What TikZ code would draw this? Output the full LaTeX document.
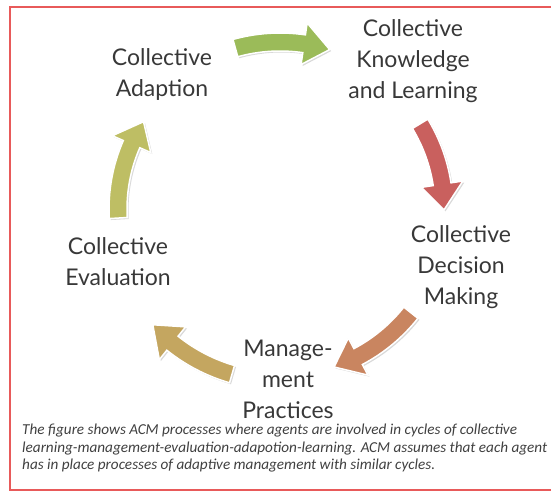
\documentclass[tikz,border=0pt]{standalone}
\usepackage{fontspec}
\setmainfont{Lato}
\newfontfamily\notefont{Carlito}
\usetikzlibrary{shadows}

\definecolor{cgreen}{HTML}{9BBB59}
\definecolor{cred}{HTML}{C9605E}
\definecolor{corange}{HTML}{C98560}
\definecolor{ctan}{HTML}{C4A660}
\definecolor{colive}{HTML}{BEBE64}
\definecolor{cframe}{HTML}{E85A5A}

\begin{document}
\begin{tikzpicture}[
    x=1pt, y=1pt,
    stage/.style={align=center, inner sep=0pt, text=black!78, font=\fontsize{23}{31}\selectfont},
    note/.style={align=left, inner sep=0pt, anchor=north west, text=black!75, font=\notefont\itshape\fontsize{15.2}{17.6}\selectfont},
    ring/.style={draw=white, line width=1.5pt, drop shadow={shadow xshift=1.5pt, shadow yshift=-1.5pt, opacity=0.3}},
    frame/.style={draw=cframe, line width=1.5pt}
]
\useasboundingbox (0,0) rectangle (551,493);
\clip (0,0) rectangle (551,493);
\draw[frame] (10,486) rectangle (570,3);

\coordinate (cyc) at (280,284);

% the five stages
\node[stage] (adapt) at (162,418) {Collective\\Adaption};
\node[stage] (learn) at (413,432) {Collective\\Knowledge\\and Learning};
\node[stage] (decide) at (461,226) {Collective\\Decision\\Making};
\node[stage] (manage) at (288,114) {Manage-\\ment\\Practices};
\node[stage] (evalu) at (118,231) {Collective\\Evaluation};

% curved arrows round the cycle
\begin{scope}[shift={(cyc)}]
\foreach \col/\sa/\ea/\rr in {cgreen/105.5/72.7/167, cred/31.3/-0.3/164,
    corange/-38.4/-71.1/167, ctan/-106.2/-137.7/172, colive/183.2/147.4/162}{
  \pgfmathsetmacro\hb{\ea+9}
  \pgfmathsetmacro\ro{\rr+9}
  \pgfmathsetmacro\ri{\rr-9}
  \pgfmathsetmacro\hro{\rr+21}
  \pgfmathsetmacro\hri{\rr-21}
  \fill[\col, ring] (\sa:\ro) arc[start angle=\sa, end angle=\hb, radius=\ro]
    -- (\hb:\hro) -- (\ea:\rr) -- (\hb:\hri) -- (\hb:\ri)
    arc[start angle=\hb, end angle=\sa, radius=\ri] -- cycle;
}
\end{scope}

\node[note] (caption) at (22,69) {The figure shows ACM processes where agents are involved in cycles of collective\\
learning-management-evaluation-adapotion-learning. ACM assumes that each agent\\
has in place processes of adaptive management with similar cycles.};
\end{tikzpicture}
\end{document}
